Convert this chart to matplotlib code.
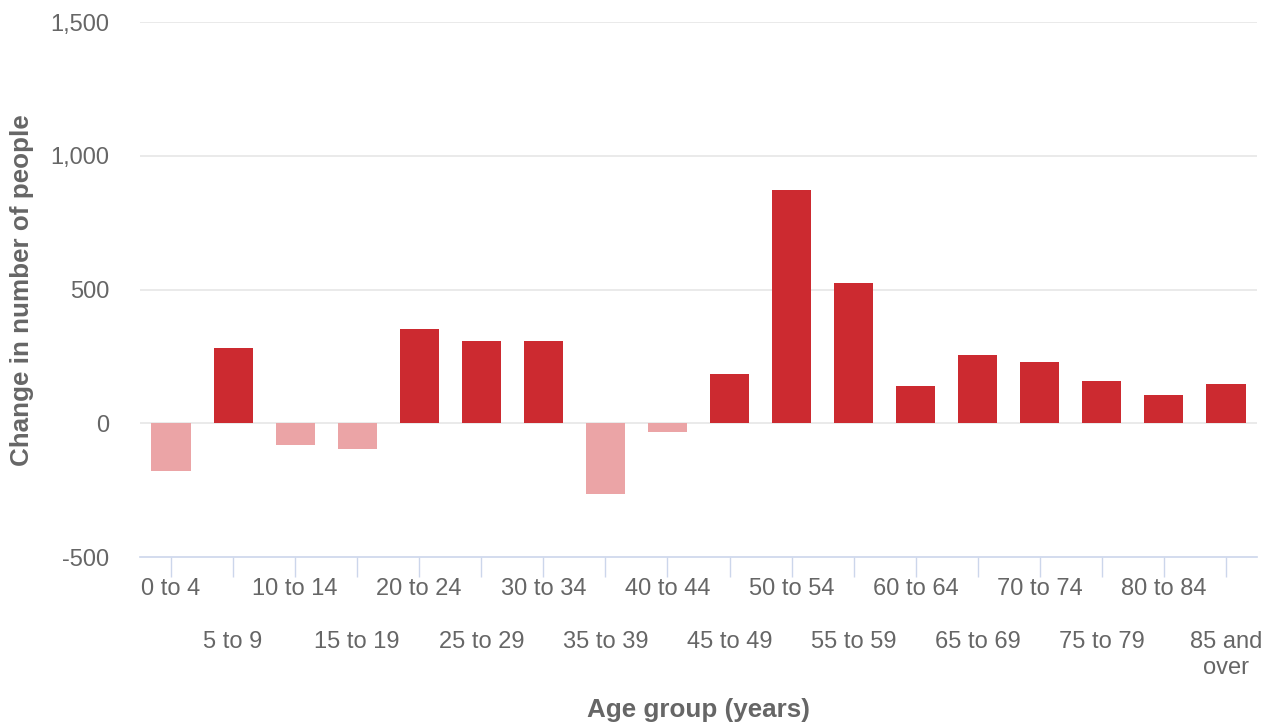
import matplotlib as mpl
import matplotlib.pyplot as plt
import numpy as np

mpl.rcParams.update({
    "font.family": ["Liberation Sans", "DejaVu Sans"],
    "font.size": 17,
    "figure.dpi": 100,
})

age_groups = ["0 to 4", "5 to 9", "10 to 14", "15 to 19", "20 to 24", "25 to 29",
              "30 to 34", "35 to 39", "40 to 44", "45 to 49", "50 to 54", "55 to 59",
              "60 to 64", "65 to 69", "70 to 74", "75 to 79", "80 to 84", "85 and\nover"]
change = [-178, 280, -80, -95, 351, 306, 306, -263, -34, 183, 871, 523,
          138, 254, 228, 157, 105, 146]
yticks = [-500, 0, 500, 1000, 1500]

pos_color = "#cc2a30"
neg_color = "#eba4a6"
text_color = "#666666"

W, H = 1266, 724
fig = plt.figure(figsize=(W / 100, H / 100))
ax = fig.add_axes([140 / W, 1 - 557 / H, (1257 - 140) / W, (557 - 22) / H])

x = np.arange(len(age_groups))
colors = [pos_color if v >= 0 else neg_color for v in change]
ax.bar(x, change, width=0.63, color=colors, zorder=3)

ax.set_xlim(-0.5, len(age_groups) - 0.5)
ax.set_ylim(-500, 1500)
ax.set_yticks(yticks)
ax.set_yticklabels([f"{v:,}" for v in yticks])
for v in yticks[1:]:
    ax.axhline(v, color="#e6e6e6", lw=1.2, zorder=1)

for s in ["top", "right", "left"]:
    ax.spines[s].set_visible(False)
ax.spines["bottom"].set_color("#ccd6eb")
ax.spines["bottom"].set_linewidth(1.2)

ax.tick_params(axis="y", length=0, pad=22, colors=text_color, labelsize=17)
ax.tick_params(axis="x", length=14.4, width=1, color="#ccd6eb",
               labelcolor=text_color, labelsize=17, pad=1)
ax.set_xticks(x)
ax.set_xticklabels(age_groups)
for i, t in enumerate(ax.xaxis.get_major_ticks()):
    if i % 2 == 1:
        t.set_pad(39)

fig.text(698 / W, 1 - 710 / H, "Age group (years)", ha="center", va="center",
         fontsize=18.7, fontweight="bold", color=text_color)
fig.text(22 / W, 1 - 290 / H, "Change in number of people", ha="center", va="center",
         rotation=90, fontsize=18.7, fontweight="bold", color=text_color)

fig.savefig("out.png", dpi=100)
